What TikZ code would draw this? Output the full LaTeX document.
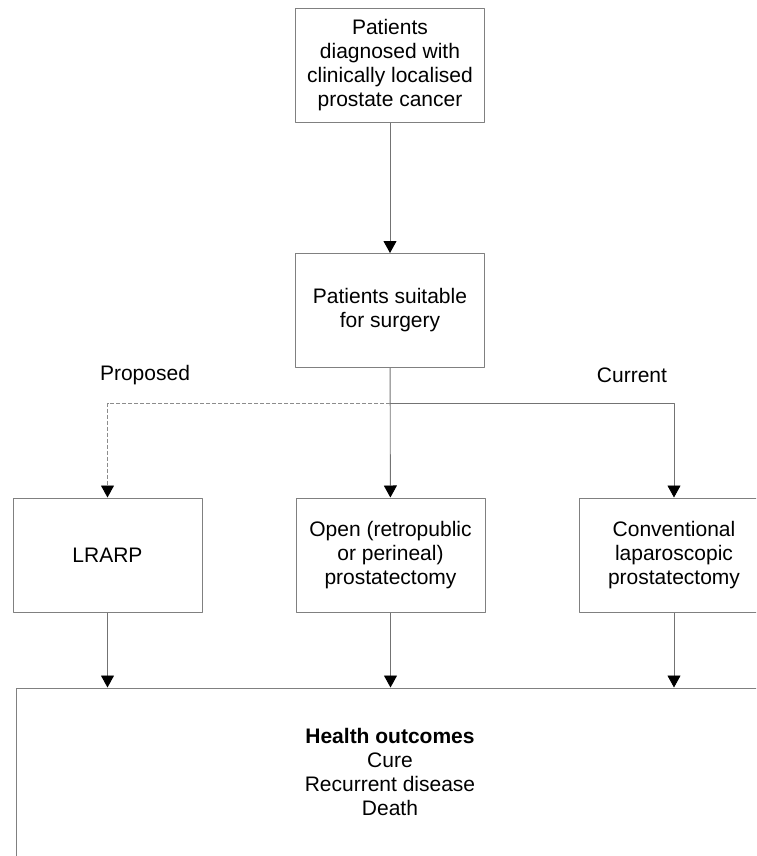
\documentclass[tikz,border=0pt]{standalone}
\usepackage{fontspec}
\setmainfont{Liberation Sans}
\usetikzlibrary{arrows.meta}

\begin{document}
\begin{tikzpicture}[x=1pt,y=-1pt,>={Triangle[length=12pt,width=13pt,color=black]},line join=round,
  box/.style={draw=black!50,line width=1pt,minimum width=189pt,minimum height=114pt,inner sep=0pt,align=center,font=\fontsize{21}{24}\selectfont},
  link/.style={draw=black!55,line width=0.9pt,->},
  tag/.style={font=\fontsize{21}{24}\selectfont}]
  \useasboundingbox (0,0) rectangle (756,856);
  \clip (0,0) rectangle (756,856);
  % boxes
  \node[box] (diag) at (390,65.5) {Patients\\diagnosed with\\clinically localised\\prostate cancer};
  \node[box] (suit) at (390,310.5) {Patients suitable\\for surgery};
  \node[box] (lrarp) at (107.5,555) {LRARP};
  \node[box] (open) at (390.5,555) {Open (retropublic\\or perineal)\\prostatectomy};
  \node[box] (conv) at (674,555) {Conventional\\laparoscopic\\prostatectomy};
  \node[box,minimum width=748pt,minimum height=180pt] (health) at (390,778) {};
  \node[tag,align=center] (outcome) at (390,772) {\textbf{Health outcomes}\\Cure\\Recurrent disease\\Death};
  \coordinate (split) at (390,403);
  \node[tag] (prop) at (145,375) {Proposed};
  \node[tag] (curr) at (632,375) {Current};
  % connectors
  \draw[link] (diag) -- (suit);
  \draw[link] (suit) -- (open);
  \draw[link,draw=black!45,dash pattern=on 4pt off 2pt] (split) -| (lrarp);
  \draw[link] (split) -| (conv);
  \draw[link] (lrarp) -- (lrarp |- health.north);
  \draw[link] (open) -- (open |- health.north);
  \draw[link] (conv) -- (conv |- health.north);
\end{tikzpicture}
\end{document}
